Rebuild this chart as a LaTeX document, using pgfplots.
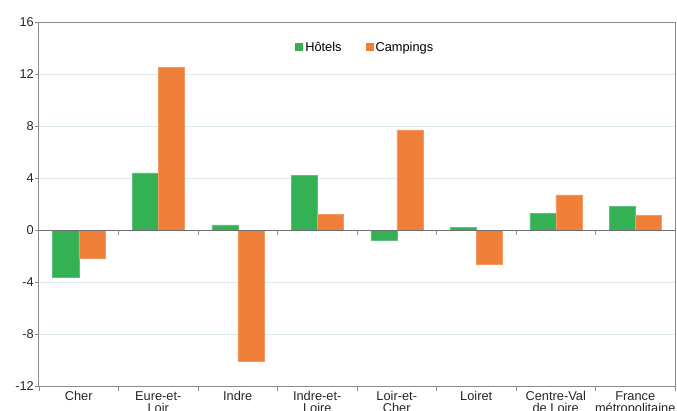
\documentclass[border=0pt]{standalone}
\usepackage{pgfplots}
\pgfplotsset{compat=1.18}
\usepackage{fontspec}
\setmainfont{Liberation Sans}
\definecolor{hot}{HTML}{35B155}
\definecolor{camp}{HTML}{F07F3A}
\definecolor{gridc}{HTML}{DCE9F0}
\definecolor{framec}{HTML}{8A8A8A}
\begin{document}
\begin{tikzpicture}[x=1pt,y=1pt]
\begin{axis}[
  at={(0,0)}, anchor=south west,
  scale only axis, width=636pt, height=364pt,
  ymin=-12, ymax=16, ytick={-12,-8,...,16},
  xmin=-0.5, xmax=7.5,
  xtick={0,...,7},
  xticklabels={Cher, Eure-et-\\Loir, Indre, Indre-et-\\Loire, Loir-et-\\Cher, Loiret, Centre-Val\\de Loire, France\\métropolitaine},
  minor xtick={-0.5,0.5,...,7.5},
  major x tick style={draw=none},
  minor x tick style={framec},
  minor tick length=5pt,
  major tick length=4pt,
  tick align=outside,
  xtick pos=bottom, ytick pos=left,
  y tick style={framec},
  /pgf/number format/assume math mode=true,
  ticklabel style={font=\fontsize{12.8}{12.5}\selectfont, text=black!85},
  xticklabel style={align=center, inner sep=1pt},
  yticklabel style={inner sep=1pt},
  ymajorgrids, grid style={gridc, line width=0.8pt},
  axis line style={framec, line width=1pt},
  ybar=0pt, bar width=26pt,
  legend style={draw=none, fill=none, at={(0.513,0.931)}, anchor=center,
    font=\fontsize{12.8}{14}\selectfont, legend columns=2,
    /tikz/every even column/.append style={column sep=22pt}},
  legend image code/.code={\fill[#1,draw=none] (0pt,-3.5pt) rectangle (8pt,4pt);},
]
\addplot[fill=hot, draw=hot!80!white, line width=0.5pt] coordinates {(0,-3.6) (1,4.4) (2,0.4) (3,4.2) (4,-0.8) (5,0.2) (6,1.3) (7,1.8)};
\addplot[fill=camp, draw=camp!80!white, line width=0.5pt] coordinates {(0,-2.2) (1,12.5) (2,-10.1) (3,1.2) (4,7.7) (5,-2.6) (6,2.7) (7,1.1)};
\legend{Hôtels, Campings}
\draw[framec!80!black, line width=1pt] (axis cs:-0.5,0) -- (axis cs:7.5,0);
\pgfplotsinvokeforeach{0.5,1.5,2.5,3.5,4.5,5.5,6.5}{\draw[framec, line width=0.8pt] (axis cs:#1,0) -- ++(0pt,-5pt);}
\node[anchor=base east, inner sep=0pt, font=\fontsize{12.8}{14}\selectfont, text=black!85] at ([yshift=4pt,xshift=-2pt]rel axis cs:1,1) {\%};
\end{axis}
\pgfresetboundingbox
\useasboundingbox (-39pt,-24pt) rectangle (638pt,386pt);
\end{tikzpicture}
\end{document}
